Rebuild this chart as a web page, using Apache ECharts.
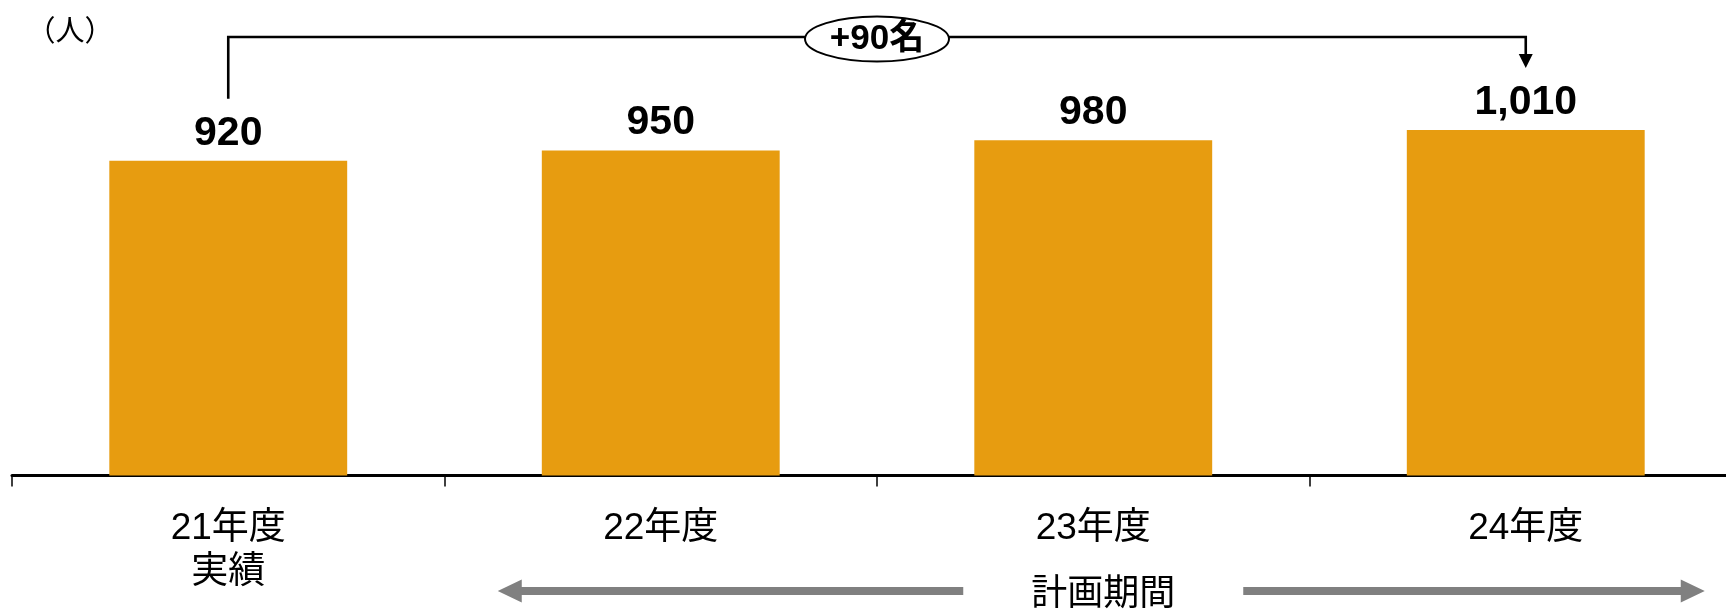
<!DOCTYPE html>
<html>
<head>
<meta charset="utf-8">
<script src="https://cdn.jsdelivr.net/npm/echarts@6/dist/echarts.min.js"></script>
<style>
html,body{margin:0;padding:0;background:#fff;overflow:hidden;width:1726px;height:610px;}
#chart{width:1760px;height:610px;}
</style>
</head>
<body>
<div id="chart"></div>
<script>
const categories = ['21年度\n実績', '22年度', '23年度', '24年度'];
const values = [920, 950, 980, 1010];
const unitLabel = '（人）';
const changeLabel = '+90名';
const periodLabel = '計画期間';

const FONT = '"Liberation Sans", "Noto Sans CJK JP", sans-serif';
const chart = echarts.init(document.getElementById('chart'), null, {renderer: 'canvas'});

const option = {
  animation: false,
  backgroundColor: '#ffffff',
  grid: {left: 12, top: 64.9, width: 1730, height: 410.6, containLabel: false},
  xAxis: {
    type: 'category',
    data: categories,
    boundaryGap: true,
    axisLine: {lineStyle: {color: '#000', width: 3}},
    axisTick: {show: true, length: 11, lineStyle: {color: '#000', width: 1.5}},
    axisLabel: {
      color: '#000', fontSize: 37, lineHeight: 44, margin: 31,
      fontFamily: FONT
    }
  },
  yAxis: {
    type: 'value', min: 0, max: 1200,
    show: false, splitLine: {show: false}
  },
  series: [{
    type: 'bar',
    data: values,
    barWidth: '55%',
    itemStyle: {color: '#E79C10'},
    label: {
      show: true, position: 'top', distance: 7,
      color: '#000', fontSize: 41, fontWeight: 'bold', fontFamily: FONT,
      formatter: p => p.value.toLocaleString('en-US')
    }
  }]
};
chart.setOption(option);

function drawAnnotations() {
  const p0 = chart.convertToPixel({seriesIndex: 0}, [0, values[0]]);
  const p3 = chart.convertToPixel({seriesIndex: 0}, [3, values[3]]);
  const p1 = chart.convertToPixel({seriesIndex: 0}, [1, values[1]]);
  const bracketY = 37;
  const x0 = p0[0], x3 = p3[0];
  const bottom0 = p0[1] - 62;
  const tip3 = p3[1] - 62;
  const midX = (x0 + x3) / 2;

  const periodY = 591;
  const periodCx = (p1[0] + x3) / 2 + 10;
  const leftTip = p1[0] - 163;
  const rightTip = x3 + 179;
  const textHalf = 72, gap = 68;
  const headL = 24, headH = 11.5, shaft = 4;

  const gray = '#808080';
  chart.setOption({
    graphic: [
      {type: 'text', x: 70, y: 30, style: {text: unitLabel, fontSize: 29, fill: '#000', align: 'center', verticalAlign: 'middle',
        fontFamily: '"Noto Sans CJK JP", sans-serif'}},
      {type: 'polyline', shape: {points: [[x0, bottom0], [x0, bracketY], [x3, bracketY], [x3, tip3 - 13]]},
        style: {stroke: '#000', lineWidth: 2.6, fill: null}},
      {type: 'polygon', shape: {points: [[x3 - 7, tip3 - 14], [x3 + 7, tip3 - 14], [x3, tip3]]}, style: {fill: '#000'}},
      {type: 'ellipse', shape: {cx: midX, cy: 39, rx: 72, ry: 22.5}, style: {fill: '#fff', stroke: '#000', lineWidth: 2}},
      {type: 'text', x: midX, y: 39, style: {text: changeLabel, fontSize: 35, fontWeight: 'bold', fill: '#000',
        align: 'center', verticalAlign: 'middle', fontFamily: FONT}},
      {type: 'polygon', shape: {points: [
        [leftTip, periodY], [leftTip + headL, periodY - headH], [leftTip + headL, periodY - shaft],
        [periodCx - textHalf - gap, periodY - shaft], [periodCx - textHalf - gap, periodY + shaft],
        [leftTip + headL, periodY + shaft], [leftTip + headL, periodY + headH]]}, style: {fill: gray}},
      {type: 'polygon', shape: {points: [
        [rightTip, periodY], [rightTip - headL, periodY - headH], [rightTip - headL, periodY - shaft],
        [periodCx + textHalf + gap, periodY - shaft], [periodCx + textHalf + gap, periodY + shaft],
        [rightTip - headL, periodY + shaft], [rightTip - headL, periodY + headH]]}, style: {fill: gray}},
      {type: 'text', x: periodCx, y: periodY, style: {text: periodLabel, fontSize: 36, fill: '#000',
        align: 'center', verticalAlign: 'middle', fontFamily: '"Noto Sans CJK JP", sans-serif'}}
    ]
  });
}
drawAnnotations();
</script>
</body>
</html>
